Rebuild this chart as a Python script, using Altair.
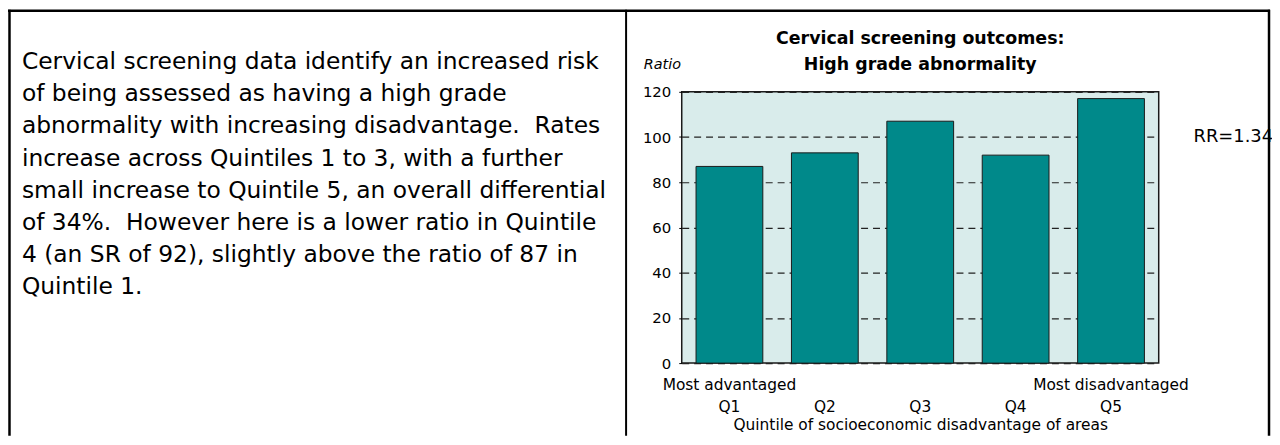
import altair as alt
import pandas as pd

# ---- data ----
quintiles = ["Q1", "Q2", "Q3", "Q4", "Q5"]
ratios = [87, 93, 107, 92, 117]
top_labels = ["Most advantaged", "", "", "", "Most disadvantaged"]
rr_text = "RR=1.34"
rr_level = 100
title_lines = ["Cervical screening outcomes:", "High grade abnormality"]
y_title = "Ratio"
x_title = "Quintile of socioeconomic disadvantage of areas"
paragraph = [
    "Cervical screening data identify an increased risk",
    "of being assessed as having a high grade",
    "abnormality with increasing disadvantage.\u00a0 Rates",
    "increase across Quintiles 1 to 3, with a further",
    "small increase to Quintile 5, an overall differential",
    "of 34%.\u00a0 However here is a lower ratio in Quintile",
    "4 (an SR of 92), slightly above the ratio of 87 in",
    "Quintile 1.",
]

FONT = "DejaVu Sans"
df = pd.DataFrame({"quintile": quintiles, "ratio": ratios})

label_expr = " : ".join(
    [f"datum.value == '{q}' ? ['{t}', '{q}']" for q, t in zip(quintiles, top_labels)]
) + " : ['', datum.value]"

x_enc = alt.X(
    "quintile:N",
    sort=quintiles,
    scale=alt.Scale(paddingInner=0.3, paddingOuter=0.15),
    axis=alt.Axis(
        title=x_title,
        labelExpr=label_expr,
        labelAngle=0,
        labelFontSize=15.5,
        labelLineHeight=22,
        labelBaseline="top",
        labelPadding=15,
        labelColor="#000",
        labelFont=FONT,
        ticks=False,
        domain=False,
        titleFont=FONT,
        titleFontSize=15.5,
        titleFontWeight="normal",
        titleColor="#000",
        titlePadding=2,
    ),
)
y_enc = alt.Y(
    "ratio:Q",
    scale=alt.Scale(domain=[0, 120], nice=False),
    axis=alt.Axis(
        values=[0, 20, 40, 60, 80, 100, 120],
        title=y_title,
        titleAngle=0,
        titleX=-20,
        titleY=-27,
        titleAlign="center",
        titleBaseline="middle",
        titleFont=FONT,
        titleFontSize=14.5,
        titleFontStyle="italic",
        titleFontWeight="normal",
        titleColor="#000",
        labelFont=FONT,
        labelFontSize=15,
        labelColor="#000",
        labelPadding=8,
        tickSize=3,
        tickColor="#000",
        domain=False,
        grid=True,
        gridColor="#222",
        gridDash=[7, 5],
        gridWidth=1.2,
    ),
)

bars = alt.Chart(df).mark_bar(
    color="#00898a", stroke="#1a1a1a", strokeWidth=1
).encode(x=x_enc, y=y_enc)

one = alt.Data(values=[{}])

title = alt.Chart(one).mark_text(
    align="center", baseline="alphabetic", fontSize=17.5, fontWeight="bold",
    lineHeight=26, font=FONT, color="#000"
).encode(x=alt.value(240), y=alt.value(-48), text=alt.value(title_lines))

rr = alt.Chart(one).mark_text(
    align="left", baseline="middle", fontSize=18, font=FONT, color="#000"
).encode(x=alt.value(515), y=alt.datum(rr_level), text=alt.value(rr_text))

para = alt.Chart(one).mark_text(
    align="left", baseline="alphabetic", fontSize=23.5, lineHeight=32.4,
    font=FONT, color="#000"
).encode(x=alt.value(-664), y=alt.value(-23), text=alt.value(paragraph))

border_top = alt.Chart(one).mark_rule(color="#000", strokeWidth=2.5).encode(
    x=alt.value(-678), x2=alt.value(592), y=alt.value(-81.5)
)
border_left = alt.Chart(one).mark_rule(color="#000", strokeWidth=2.5).encode(
    x=alt.value(-676.5), y=alt.value(-82.5), y2=alt.value(346)
)
border_mid = alt.Chart(one).mark_rule(color="#000", strokeWidth=2).encode(
    x=alt.value(-56), y=alt.value(-82.5), y2=alt.value(346)
)
border_right = alt.Chart(one).mark_rule(color="#000", strokeWidth=2.5).encode(
    x=alt.value(591), y=alt.value(-82.5), y2=alt.value(346)
)

chart = alt.layer(
    bars, title, rr, para, border_top, border_left, border_mid, border_right
).properties(
    width=480,
    height=273,
    padding={"left": 678, "top": 83, "right": 114, "bottom": 73},
    autosize=alt.AutoSizeParams(type="none"),
).configure(
    background="white"
).configure_view(
    fill="#d9eceb", stroke="#1a1a1a", strokeWidth=1.5
)

chart.save("out.html", embed_options={"renderer": "svg", "actions": False})
